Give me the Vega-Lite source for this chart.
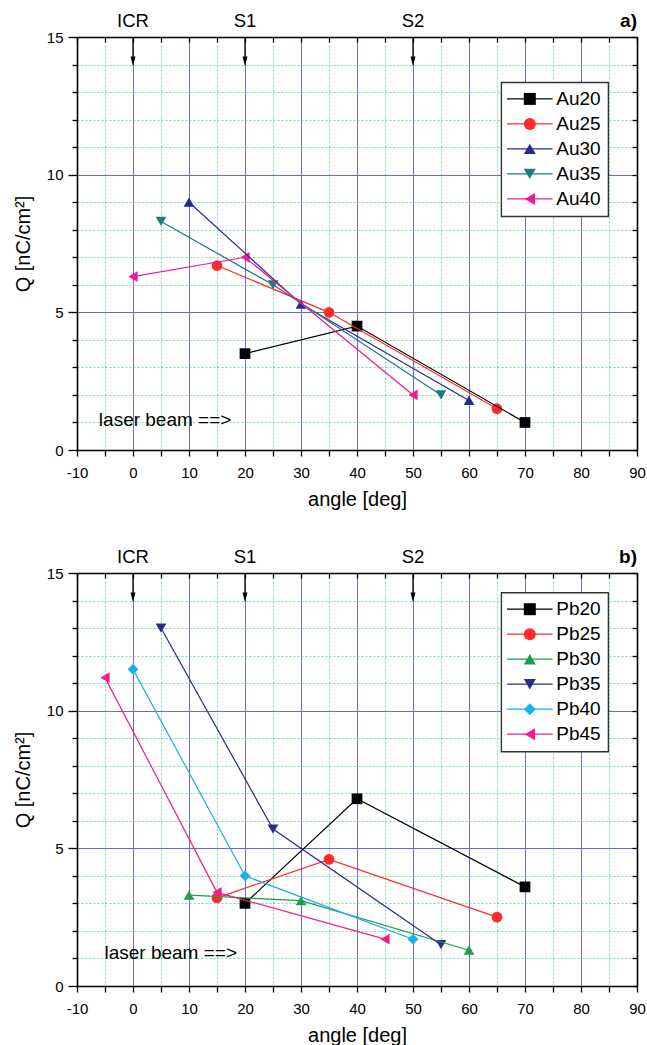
{
  "$schema": "https://vega.github.io/schema/vega-lite/v6.json",
  "padding": {"left": 13, "top": 12, "right": 0, "bottom": 0},
  "spacing": 39,
  "resolve": {"scale": {"color": "independent", "shape": "independent", "stroke": "independent"}, "legend": {"color": "independent", "shape": "independent", "stroke": "independent"}},
  "config": {
    "view": {"stroke": null},
    "font": "Liberation Sans",
    "axis": {"labelFont": "Liberation Sans", "titleFont": "Liberation Sans"},
    "legend": {"labelFont": "Liberation Sans", "strokeWidth": 1.4},
    "text": {"font": "Liberation Sans"}
  },
  "datasets": {
    "au": [
      {"sample": "Au20", "angle": 20, "Q": 3.5},
      {"sample": "Au20", "angle": 40, "Q": 4.5},
      {"sample": "Au20", "angle": 70, "Q": 1.0},
      {"sample": "Au25", "angle": 15, "Q": 6.7},
      {"sample": "Au25", "angle": 35, "Q": 5.0},
      {"sample": "Au25", "angle": 65, "Q": 1.5},
      {"sample": "Au30", "angle": 10, "Q": 9.0},
      {"sample": "Au30", "angle": 30, "Q": 5.3},
      {"sample": "Au30", "angle": 60, "Q": 1.8},
      {"sample": "Au35", "angle": 5, "Q": 8.3},
      {"sample": "Au35", "angle": 25, "Q": 6.0},
      {"sample": "Au35", "angle": 55, "Q": 2.0},
      {"sample": "Au40", "angle": 0, "Q": 6.3},
      {"sample": "Au40", "angle": 20, "Q": 7.0},
      {"sample": "Au40", "angle": 50, "Q": 2.0}
    ],
    "pb": [
      {"sample": "Pb20", "angle": 20, "Q": 3.0},
      {"sample": "Pb20", "angle": 40, "Q": 6.8},
      {"sample": "Pb20", "angle": 70, "Q": 3.6},
      {"sample": "Pb25", "angle": 15, "Q": 3.2},
      {"sample": "Pb25", "angle": 35, "Q": 4.6},
      {"sample": "Pb25", "angle": 65, "Q": 2.5},
      {"sample": "Pb30", "angle": 10, "Q": 3.3},
      {"sample": "Pb30", "angle": 30, "Q": 3.1},
      {"sample": "Pb30", "angle": 60, "Q": 1.3},
      {"sample": "Pb35", "angle": 5, "Q": 13.0},
      {"sample": "Pb35", "angle": 25, "Q": 5.7},
      {"sample": "Pb35", "angle": 55, "Q": 1.5},
      {"sample": "Pb40", "angle": 0, "Q": 11.5},
      {"sample": "Pb40", "angle": 20, "Q": 4.0},
      {"sample": "Pb40", "angle": 50, "Q": 1.7},
      {"sample": "Pb45", "angle": -5, "Q": 11.2},
      {"sample": "Pb45", "angle": 15, "Q": 3.4},
      {"sample": "Pb45", "angle": 45, "Q": 1.7}
    ],
    "arrows": [
      {"x": 0, "label": "ICR"},
      {"x": 20, "label": "S1"},
      {"x": 50, "label": "S2"}
    ]
  },
  "vconcat": [
    {
      "width": 560,
      "height": 413,
      "layer": [
        {
          "data": {"name": "au"},
          "mark": {"type": "point", "filled": true, "opacity": 1, "size": 115},
          "encoding": {
            "x": {"field": "angle", "type": "quantitative", "scale": {"domain": [-10, 90], "nice": false, "zero": false},
              "axis": {"orient": "bottom", "values": [-10, -5, 0, 5, 10, 15, 20, 25, 30, 35, 40, 45, 50, 55, 60, 65, 70, 75, 80, 85, 90],
                "labelExpr": "datum.value % 10 == 0 ? '' + datum.value : ''", "labelFlush": false, "labelOverlap": false,
                "labelFontSize": 15, "labelColor": "black", "labelPadding": 9,
                "tickSize": 6, "tickColor": "black", "tickWidth": 1.3, "domainColor": "black", "domainWidth": 1.6,
                "grid": true, "gridColor": "#7fd6a6", "gridWidth": 1,
                "gridDash": {"condition": {"test": "datum.value % 10 == 0", "value": [0, 2000]}, "value": [2, 2]},
                "title": "angle  [deg]", "titleFontSize": 20, "titleFontWeight": "normal", "titleColor": "black", "titlePadding": 9}},
            "y": {"field": "Q", "type": "quantitative", "scale": {"domain": [0, 15], "nice": false, "zero": false},
              "axis": {"orient": "left", "values": [0, 1, 2, 3, 4, 5, 6, 7, 8, 9, 10, 11, 12, 13, 14, 15],
                "labelExpr": "datum.value % 5 == 0 ? '' + datum.value : ''", "labelOverlap": false, "labelFlush": false,
                "labelFontSize": 15, "labelColor": "black", "labelPadding": 5,
                "tickSize": {"condition": {"test": "datum.value % 5 == 0", "value": 9}, "value": 5},
                "tickColor": "black", "tickWidth": 1.3, "domainColor": "black", "domainWidth": 1.6,
                "grid": true,
                "gridColor": {"condition": {"test": "datum.value % 5 == 0", "value": "#6a6ad0"}, "value": "#7fd6a6"},
                "gridDash": {"condition": {"test": "datum.value % 5 == 0", "value": []}, "value": [2, 2]},
                "gridWidth": 1,
                "title": "Q  [nC/cm²]", "titleFontSize": 20, "titleFontWeight": "normal", "titleColor": "black", "titlePadding": 13}},
            "color": {"field": "sample", "type": "nominal",
              "scale": {"domain": ["Au20", "Au25", "Au30", "Au35", "Au40"], "range": ["#000000", "#ff2a2a", "#28289a", "#1d7b82", "#f01a98"]},
              "legend": {"title": null, "orient": "none", "legendX": 424.3, "legendY": 45.4, "padding": 7, "rowPadding": 5, "labelFontSize": 19, "labelColor": "black", "labelOffset": 17, "symbolSize": 144, "symbolOffset": 12, "symbolStrokeWidth": 1.2, "fillColor": "white", "labelLimit": 300}},
            "shape": {"field": "sample", "type": "nominal",
              "scale": {"domain": ["Au20", "Au25", "Au30", "Au35", "Au40"], "range": ["square", "circle", "triangle-up", "triangle-down", "triangle-left"]},
              "legend": {"title": null, "orient": "none", "legendX": 424.3, "legendY": 45.4, "padding": 7, "rowPadding": 5, "labelFontSize": 19, "labelColor": "black", "labelOffset": 17, "symbolSize": 144, "symbolOffset": 12, "symbolStrokeWidth": 1.2, "fillColor": "white", "labelLimit": 300}}
          }
        },
        {
          "data": {"name": "au"},
          "mark": {"type": "line", "strokeWidth": 1.2},
          "encoding": {
            "x": {"field": "angle", "type": "quantitative", "axis": null},
            "y": {"field": "Q", "type": "quantitative", "axis": null},
            "stroke": {"field": "sample", "type": "nominal",
              "scale": {"domain": ["Au40", "Au35", "Au30", "Au25", "Au20"], "range": ["#f01a98", "#1d7b82", "#28289a", "#ff2a2a", "#000000"]},
              "legend": {"title": null, "orient": "none", "legendX": 424.3, "legendY": 45.4, "padding": 7, "rowPadding": 5, "labelFontSize": 19, "labelOpacity": 0, "labelOffset": 17, "symbolSize": 144, "symbolOffset": 12, "symbolStrokeWidth": 1.2, "symbolType": "M-3.8,0H3.8", "strokeColor": "#333333", "labelLimit": 300, "values": ["Au20", "Au25", "Au30", "Au35", "Au40"]}}
          }
        },
        {
          "data": {"name": "arrows"},
          "mark": {"type": "rule", "color": "black", "strokeWidth": 1.3},
          "encoding": {
            "x": {"field": "x", "type": "quantitative",
              "axis": {"orient": "top", "values": [-10, -5, 0, 5, 10, 15, 20, 25, 30, 35, 40, 45, 50, 55, 60, 65, 70, 75, 80, 85, 90],
                "labels": false, "tickSize": -5, "tickColor": "black", "tickWidth": 1.3, "domainColor": "black", "domainWidth": 1.6,
                "grid": true, "gridColor": "#6a6ad0", "gridWidth": 1,
                "gridDash": {"condition": {"test": "datum.value % 10 == 0", "value": []}, "value": [0, 2000]},
                "title": null}},
            "y": {"datum": 15, "type": "quantitative",
              "axis": {"orient": "right", "values": [0, 1, 2, 3, 4, 5, 6, 7, 8, 9, 10, 11, 12, 13, 14, 15],
                "labels": false, "tickSize": -5, "tickColor": "black", "tickWidth": 1.3, "domainColor": "black", "domainWidth": 1.6, "grid": false, "title": null}},
            "y2": {"datum": 14.1}
          }
        },
        {
          "data": {"name": "arrows"},
          "mark": {"type": "point", "filled": true, "opacity": 1, "color": "black", "shape": "M-0.5,-1L0,1L0.5,-1Z", "size": 100},
          "encoding": {
            "x": {"field": "x", "type": "quantitative", "axis": null},
            "y": {"datum": 14.11, "type": "quantitative", "axis": null}
          }
        },
        {
          "data": {"name": "arrows"},
          "mark": {"type": "text", "fontSize": 18.5, "baseline": "alphabetic", "align": "center", "dy": -10, "color": "black"},
          "encoding": {
            "x": {"field": "x", "type": "quantitative", "axis": null},
            "y": {"datum": 15, "type": "quantitative", "axis": null},
            "text": {"field": "label"}
          }
        },
        {
          "data": {"values": [{"label": "a)"}]},
          "mark": {"type": "text", "fontSize": 19, "fontWeight": "bold", "baseline": "alphabetic", "align": "right", "dy": -10, "color": "black"},
          "encoding": {
            "x": {"datum": 90, "type": "quantitative", "axis": null},
            "y": {"datum": 15, "type": "quantitative", "axis": null},
            "text": {"field": "label"}
          }
        },
        {
          "data": {"values": [{"label": "laser beam ==>"}]},
          "mark": {"type": "text", "fontSize": 19, "baseline": "alphabetic", "align": "left", "color": "black"},
          "encoding": {
            "x": {"datum": -6.1, "type": "quantitative", "axis": null},
            "y": {"datum": 0.86, "type": "quantitative", "axis": null},
            "text": {"field": "label"}
          }
        }
      ],
      "resolve": {"axis": {"x": "independent", "y": "independent"}}
    },
    {
      "width": 560,
      "height": 413,
      "layer": [
        {
          "data": {"name": "pb"},
          "mark": {"type": "point", "filled": true, "opacity": 1, "size": 115},
          "encoding": {
            "x": {"field": "angle", "type": "quantitative", "scale": {"domain": [-10, 90], "nice": false, "zero": false},
              "axis": {"orient": "bottom", "values": [-10, -5, 0, 5, 10, 15, 20, 25, 30, 35, 40, 45, 50, 55, 60, 65, 70, 75, 80, 85, 90],
                "labelExpr": "datum.value % 10 == 0 ? '' + datum.value : ''", "labelFlush": false, "labelOverlap": false,
                "labelFontSize": 15, "labelColor": "black", "labelPadding": 9,
                "tickSize": 6, "tickColor": "black", "tickWidth": 1.3, "domainColor": "black", "domainWidth": 1.6,
                "grid": true, "gridColor": "#7fd6a6", "gridWidth": 1,
                "gridDash": {"condition": {"test": "datum.value % 10 == 0", "value": [0, 2000]}, "value": [2, 2]},
                "title": "angle  [deg]", "titleFontSize": 20, "titleFontWeight": "normal", "titleColor": "black", "titlePadding": 9}},
            "y": {"field": "Q", "type": "quantitative", "scale": {"domain": [0, 15], "nice": false, "zero": false},
              "axis": {"orient": "left", "values": [0, 1, 2, 3, 4, 5, 6, 7, 8, 9, 10, 11, 12, 13, 14, 15],
                "labelExpr": "datum.value % 5 == 0 ? '' + datum.value : ''", "labelOverlap": false, "labelFlush": false,
                "labelFontSize": 15, "labelColor": "black", "labelPadding": 5,
                "tickSize": {"condition": {"test": "datum.value % 5 == 0", "value": 9}, "value": 5},
                "tickColor": "black", "tickWidth": 1.3, "domainColor": "black", "domainWidth": 1.6,
                "grid": true,
                "gridColor": {"condition": {"test": "datum.value % 5 == 0", "value": "#6a6ad0"}, "value": "#7fd6a6"},
                "gridDash": {"condition": {"test": "datum.value % 5 == 0", "value": []}, "value": [2, 2]},
                "gridWidth": 1,
                "title": "Q  [nC/cm²]", "titleFontSize": 20, "titleFontWeight": "normal", "titleColor": "black", "titlePadding": 13}},
            "color": {"field": "sample", "type": "nominal",
              "scale": {"domain": ["Pb20", "Pb25", "Pb30", "Pb35", "Pb40", "Pb45"], "range": ["#000000", "#ff2a2a", "#15a34a", "#2a2a8c", "#19aef0", "#ee1e90"]},
              "legend": {"title": null, "orient": "none", "legendX": 424.3, "legendY": 19.7, "padding": 7, "rowPadding": 5, "labelFontSize": 19, "labelColor": "black", "labelOffset": 17, "symbolSize": 144, "symbolOffset": 12, "symbolStrokeWidth": 1.2, "fillColor": "white", "labelLimit": 300}},
            "shape": {"field": "sample", "type": "nominal",
              "scale": {"domain": ["Pb20", "Pb25", "Pb30", "Pb35", "Pb40", "Pb45"], "range": ["square", "circle", "triangle-up", "triangle-down", "diamond", "triangle-left"]},
              "legend": {"title": null, "orient": "none", "legendX": 424.3, "legendY": 19.7, "padding": 7, "rowPadding": 5, "labelFontSize": 19, "labelColor": "black", "labelOffset": 17, "symbolSize": 144, "symbolOffset": 12, "symbolStrokeWidth": 1.2, "fillColor": "white", "labelLimit": 300}}
          }
        },
        {
          "data": {"name": "pb"},
          "mark": {"type": "line", "strokeWidth": 1.2},
          "encoding": {
            "x": {"field": "angle", "type": "quantitative", "axis": null},
            "y": {"field": "Q", "type": "quantitative", "axis": null},
            "stroke": {"field": "sample", "type": "nominal",
              "scale": {"domain": ["Pb45", "Pb40", "Pb35", "Pb30", "Pb25", "Pb20"], "range": ["#ee1e90", "#19aef0", "#2a2a8c", "#15a34a", "#ff2a2a", "#000000"]},
              "legend": {"title": null, "orient": "none", "legendX": 424.3, "legendY": 19.7, "padding": 7, "rowPadding": 5, "labelFontSize": 19, "labelOpacity": 0, "labelOffset": 17, "symbolSize": 144, "symbolOffset": 12, "symbolStrokeWidth": 1.2, "symbolType": "M-3.8,0H3.8", "strokeColor": "#333333", "labelLimit": 300, "values": ["Pb20", "Pb25", "Pb30", "Pb35", "Pb40", "Pb45"]}}
          }
        },
        {
          "data": {"name": "arrows"},
          "mark": {"type": "rule", "color": "black", "strokeWidth": 1.3},
          "encoding": {
            "x": {"field": "x", "type": "quantitative",
              "axis": {"orient": "top", "values": [-10, -5, 0, 5, 10, 15, 20, 25, 30, 35, 40, 45, 50, 55, 60, 65, 70, 75, 80, 85, 90],
                "labels": false, "tickSize": -5, "tickColor": "black", "tickWidth": 1.3, "domainColor": "black", "domainWidth": 1.6,
                "grid": true, "gridColor": "#6a6ad0", "gridWidth": 1,
                "gridDash": {"condition": {"test": "datum.value % 10 == 0", "value": []}, "value": [0, 2000]},
                "title": null}},
            "y": {"datum": 15, "type": "quantitative",
              "axis": {"orient": "right", "values": [0, 1, 2, 3, 4, 5, 6, 7, 8, 9, 10, 11, 12, 13, 14, 15],
                "labels": false, "tickSize": -5, "tickColor": "black", "tickWidth": 1.3, "domainColor": "black", "domainWidth": 1.6, "grid": false, "title": null}},
            "y2": {"datum": 14.1}
          }
        },
        {
          "data": {"name": "arrows"},
          "mark": {"type": "point", "filled": true, "opacity": 1, "color": "black", "shape": "M-0.5,-1L0,1L0.5,-1Z", "size": 100},
          "encoding": {
            "x": {"field": "x", "type": "quantitative", "axis": null},
            "y": {"datum": 14.11, "type": "quantitative", "axis": null}
          }
        },
        {
          "data": {"name": "arrows"},
          "mark": {"type": "text", "fontSize": 18.5, "baseline": "alphabetic", "align": "center", "dy": -10, "color": "black"},
          "encoding": {
            "x": {"field": "x", "type": "quantitative", "axis": null},
            "y": {"datum": 15, "type": "quantitative", "axis": null},
            "text": {"field": "label"}
          }
        },
        {
          "data": {"values": [{"label": "b)"}]},
          "mark": {"type": "text", "fontSize": 19, "fontWeight": "bold", "baseline": "alphabetic", "align": "right", "dy": -10, "color": "black"},
          "encoding": {
            "x": {"datum": 90, "type": "quantitative", "axis": null},
            "y": {"datum": 15, "type": "quantitative", "axis": null},
            "text": {"field": "label"}
          }
        },
        {
          "data": {"values": [{"label": "laser beam ==>"}]},
          "mark": {"type": "text", "fontSize": 19, "baseline": "alphabetic", "align": "left", "color": "black"},
          "encoding": {
            "x": {"datum": -5.1, "type": "quantitative", "axis": null},
            "y": {"datum": 0.97, "type": "quantitative", "axis": null},
            "text": {"field": "label"}
          }
        }
      ],
      "resolve": {"axis": {"x": "independent", "y": "independent"}}
    }
  ]
}
